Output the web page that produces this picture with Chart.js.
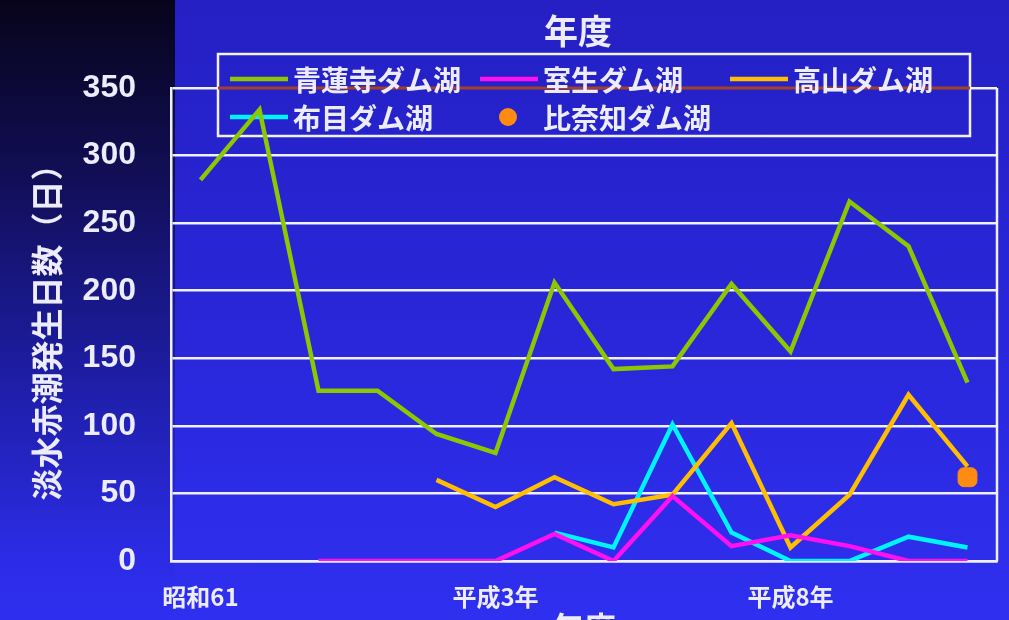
<!DOCTYPE html>
<html>
<head>
<meta charset="utf-8">
<script src="https://cdn.jsdelivr.net/npm/chart.js@4"></script>
<style>
    html, body { margin: 0; padding: 0; width: 1009px; height: 620px; overflow: hidden; }
    body {
        background:
            linear-gradient(180deg, #07041a 0%, #120f5a 30%, #1e1ea8 62%, #2c2ce6 90%, #2e2ef0 100%) 0 0 / 175px 620px no-repeat,
            linear-gradient(180deg, #2420c4 0%, #2926d8 50%, #2f2ff0 100%);
    }
    #chartBox { position: relative; width: 1009px; height: 660px; }
</style>
</head>
<body>
<div id="chartBox"><canvas id="redTideChart" width="1009" height="660"></canvas></div>
<script>
// Data (days per year)
const years = ['昭和61', '昭和62', '昭和63', '平成元年', '平成2年', '平成3年', '平成4年',
               '平成5年', '平成6年', '平成7年', '平成8年', '平成9年', '平成10年', '平成11年'];
const shownYears = ['昭和61', '平成3年', '平成8年'];

const shorenji = [282, 334, 126, 126, 94, 80, 206, 142, 144, 205, 155, 266, 233, 132];
const muro     = [null, null, 0, 0, 0, 0, 20, 0, 48, 11, 19, 11, 0, 0];
const takayama = [null, null, null, null, 60, 40, 62, 42, 49, 102, 10, 49, 123, 70];
const nunome   = [null, null, null, null, null, null, 21, 10, 101, 21, 0, 0, 18, 10];
const hinachi  = [null, null, null, null, null, null, null, null, null, null, null, null, null, 62];

const seriesNames = ['青蓮寺ダム湖', '室生ダム湖', '高山ダム湖', '布目ダム湖', '比奈知ダム湖'];
const yMin = 0, yMax = 350, yStep = 50;

const chartTitle = '年度';
const yTitle = '淡水赤潮発生日数（日）';

const textColor = '#ececfc';
const cjkFont = '"Noto Sans CJK JP", "Noto Sans", sans-serif';

// Boxed legend drawn under the lines, plus the "年度" heading over the plot
const boxLegend = {
    id: 'boxLegend',
    beforeDatasetsDraw(chart) {
        const ctx = chart.ctx;
        const area = chart.chartArea;
        const left = area.left + 47, top = 54, width = 752, height = 82;

        ctx.save();
        ctx.clearRect(left, top, width, height);
        ctx.strokeStyle = '#f0f0ff';
        ctx.lineWidth = 2.5;
        ctx.strokeRect(left, top, width, height);

        // brownish line across the box at the top grid value
        const yTop = chart.scales.y.getPixelForValue(yMax);
        ctx.strokeStyle = '#a3402c';
        ctx.lineWidth = 3;
        ctx.beginPath();
        ctx.moveTo(left, yTop);
        ctx.lineTo(left + width, yTop);
        ctx.stroke();

        ctx.font = 'bold 28px ' + cjkFont;
        ctx.textBaseline = 'middle';
        chart.data.datasets.forEach((ds, i) => {
            const col = i % 3, row = Math.floor(i / 3);
            const x = left + 12 + col * 250;
            const y = top + 25 + row * 38;
            if (ds.showLine === false) {
                ctx.fillStyle = ds.pointBackgroundColor;
                ctx.beginPath();
                ctx.arc(x + 28, y, 9, 0, Math.PI * 2);
                ctx.fill();
            } else {
                ctx.strokeStyle = ds.borderColor;
                ctx.lineWidth = 4.5;
                ctx.beginPath();
                ctx.moveTo(x, y);
                ctx.lineTo(x + 58, y);
                ctx.stroke();
            }
            ctx.fillStyle = textColor;
            ctx.textAlign = 'left';
            ctx.fillText(ds.label, x + 63, y + 1);
        });

        ctx.font = 'bold 34px ' + cjkFont;
        ctx.textAlign = 'center';
        ctx.fillText(chartTitle, (area.left + area.right) / 2 - 6, 31);
        ctx.restore();
    },
    afterDatasetsDraw(chart) {
        // right edge of the plot frame
        const {ctx, chartArea: a} = chart;
        ctx.save();
        ctx.strokeStyle = '#f0f0ff';
        ctx.lineWidth = 2.5;
        ctx.beginPath();
        ctx.moveTo(a.right, a.top);
        ctx.lineTo(a.right, a.bottom);
        ctx.stroke();
        ctx.restore();
    }
};

function lineSet(label, data, color) {
    return {
        label: label,
        data: data,
        borderColor: color,
        backgroundColor: color,
        borderWidth: 4.5,
        pointRadius: 0,
        tension: 0,
        spanGaps: false
    };
}

document.addEventListener('DOMContentLoaded', () => {
    const ctx = document.getElementById('redTideChart').getContext('2d');
    new Chart(ctx, {
        type: 'line',
        data: {
            labels: years,
            datasets: [
                lineSet(seriesNames[0], shorenji, '#8cc800'),
                lineSet(seriesNames[1], muro, '#ff10f0'),
                lineSet(seriesNames[2], takayama, '#ffbe00'),
                lineSet(seriesNames[3], nunome, '#00f4ff'),
                {
                    label: seriesNames[4],
                    data: hinachi,
                    showLine: false,
                    pointStyle: 'rectRounded',
                    pointRadius: 11,
                    pointBackgroundColor: '#ff8c10',
                    pointBorderColor: '#ff8c10',
                    borderColor: '#ff8c10',
                    backgroundColor: '#ff8c10'
                }
            ]
        },
        options: {
            responsive: false,
            animation: false,
            devicePixelRatio: 1,
            layout: { padding: { top: 88, right: 9, left: 0, bottom: 0 } },
            plugins: {
                legend: { display: false },
                title: { display: false },
                tooltip: { enabled: false }
            },
            scales: {
                x: {
                    offset: true,
                    grid: { display: false, drawTicks: false },
                    border: { display: true, color: '#f0f0ff', width: 2.5 },
                    ticks: {
                        autoSkip: false,
                        maxRotation: 0,
                        padding: 21,
                        color: textColor,
                        font: { family: cjkFont, size: 24, weight: 'bold' },
                        callback: function (value) {
                            const lab = this.getLabelForValue(value);
                            return shownYears.includes(lab) ? lab : '';
                        }
                    },
                    title: {
                        display: true,
                        text: chartTitle,
                        color: textColor,
                        font: { family: cjkFont, size: 32, weight: 'bold' },
                        padding: { top: 0, bottom: 13 }
                    },
                    afterFit: (scale) => { scale.height = 99; }
                },
                y: {
                    min: yMin,
                    max: yMax,
                    grid: { color: '#f0f0ff', lineWidth: 2.5, drawTicks: false },
                    border: { display: true, color: '#f0f0ff', width: 2.5 },
                    ticks: {
                        stepSize: yStep,
                        padding: 35,
                        color: textColor,
                        font: { family: '"Liberation Sans", Arial, sans-serif', size: 32, weight: 'bold' }
                    },
                    title: {
                        display: true,
                        text: yTitle,
                        color: textColor,
                        font: { family: cjkFont, size: 32, weight: 'bold' },
                        padding: { top: 28, bottom: 0 }
                    },
                    afterFit: (scale) => { scale.width = 171; }
                }
            }
        },
        plugins: [boxLegend]
    });
});
</script>
</body>
</html>
